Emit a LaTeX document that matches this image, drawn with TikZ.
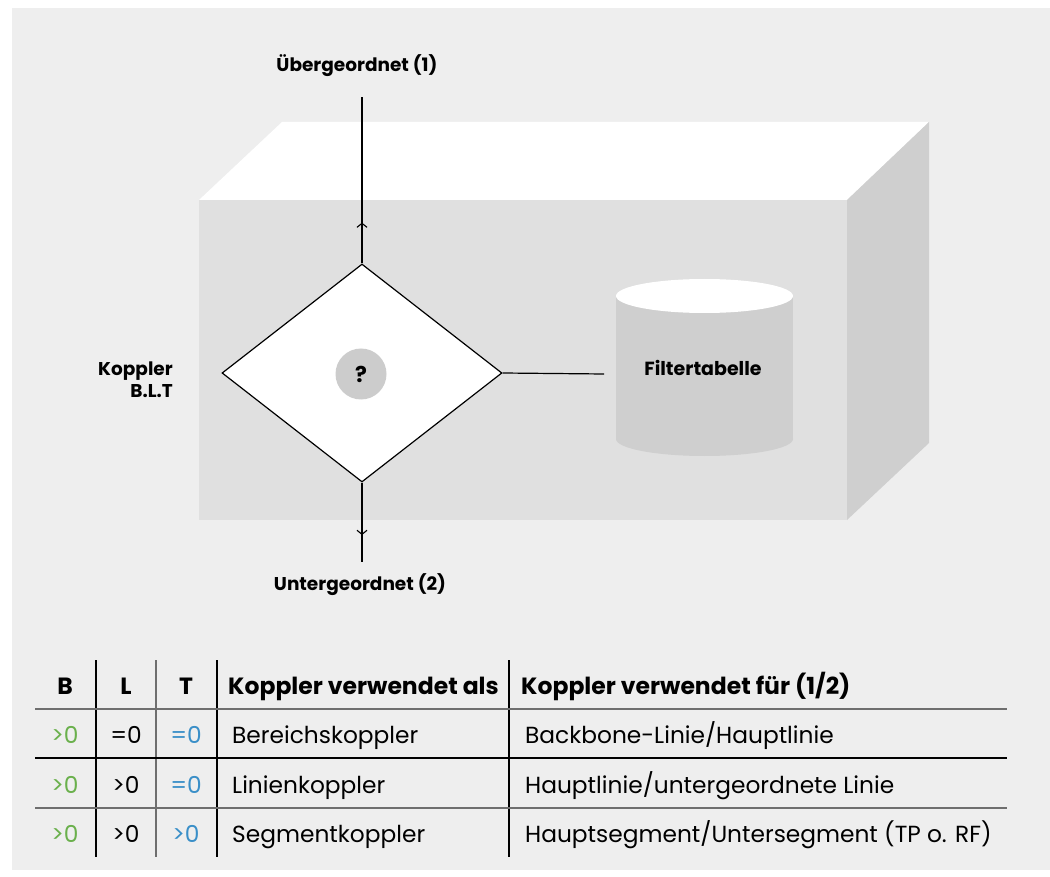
\documentclass[tikz,border=0pt]{standalone}
\usepackage{fontspec}
\setmainfont{Poppins}
\usetikzlibrary{shapes.geometric,arrows.meta,decorations.markings}
\definecolor{panel}{HTML}{EEEEEE}
\definecolor{front}{HTML}{E0E0E0}
\definecolor{side}{HTML}{CFCFCF}
\definecolor{cyl}{HTML}{CFCFCF}
\definecolor{qcirc}{HTML}{CCCCCC}
\definecolor{grn}{HTML}{6AB04C}
\definecolor{blu}{HTML}{3A8FC8}
\definecolor{rule}{HTML}{6E6E6E}
\tikzset{
  lbl/.style={font=\fontsize{18.5}{24}\selectfont\bfseries, inner sep=0pt, anchor=base},
  hdr/.style={font=\fontsize{23.5}{28}\selectfont\bfseries, inner sep=0pt, anchor=base},
  cell/.style={font=\fontsize{23.3}{28}\selectfont, inner sep=0pt, anchor=base},
  conn/.style={line width=1.2pt, black},
  midup/.style={postaction={decorate},decoration={markings,mark=at position #1 with {\arrow[line width=1.1pt]{Straight Barb[length=4pt,width=10pt]}}}},
  gridk/.style={line width=1.1pt, black},
  gridg/.style={line width=1.6pt, rule},
}
\begin{document}
\begin{tikzpicture}[x=1pt,y=-1pt]
\useasboundingbox (0,0) rectangle (1050,877);
\fill[white] (0,0) rectangle (1050,877);
\fill[panel] (12,8) rectangle (1050,870);
% box
\fill[white] (199,200) -- (282,122) -- (929,122) -- (847,200) -- cycle;
\fill[side] (847,200) -- (929,122) -- (929,443) -- (847,520) -- cycle;
\fill[front] (199,200) rectangle (847,520);
% cylinder
\fill[cyl] (616,296) rectangle (793,439);
\fill[cyl] (704.5,439) ellipse [x radius=88.5, y radius=17];
\fill[white] (704.5,296) ellipse [x radius=88.5, y radius=17];
\node[lbl, font=\fontsize{19}{24}\selectfont\bfseries] (filt) at (703,375) {Filtertabelle};
\coordinate (cylw) at (604,374);
% diamond
\node[diamond, draw=black, line width=1.2pt, fill=white, minimum width=280pt, minimum height=218pt, inner sep=0pt] (dia) at (362,373) {};
\node[circle, fill=qcirc, minimum size=51pt, inner sep=0pt, font=\fontsize{22}{24}\selectfont\bfseries] (q) at (361,374) {?};
\coordinate (top) at (362,97);
\coordinate (bot) at (362,562);
\draw[conn, midup=0.245] (dia.north) -- (top);
\draw[conn, midup=0.66] (dia.south) -- (bot);
\draw[conn] (dia.east) -- (cylw);
% labels
\node[lbl] (ueber) at (357,72) {Übergeordnet (1)};
\node[lbl] (unter) at (360,590) {Untergeordnet (2)};
\node[lbl, anchor=base east] (kop1) at (173,375) {Koppler};
\node[lbl, anchor=base east] (kop2) at (173,398) {B.L.T};
% table
\draw[gridk] (96,660) -- (96,857);
\draw[gridg] (156,660) -- (156,857);
\draw[gridk] (217,660) -- (217,857);
\draw[gridk] (509,660) -- (509,857);
\draw[gridg] (35,709) -- (1007,709);
\draw[gridk] (35,758) -- (1007,758);
\draw[gridg] (35,808) -- (1007,808);
\node[hdr] (hB) at (65,694) {B};
\node[hdr] (hL) at (126,694) {L};
\node[hdr] (hT) at (186,694) {T};
\node[hdr, anchor=base west] (hA) at (228,694) {Koppler verwendet als};
\node[hdr, anchor=base west] (hF) at (521,694) {Koppler verwendet für (1/2)};
\node[cell, text=grn] (b1) at (65,743) {>0};
\node[cell] (l1) at (126,743) {=0};
\node[cell, text=blu] (t1) at (186,743) {=0};
\node[cell, anchor=base west] (a1) at (232,743) {Bereichskoppler};
\node[cell, anchor=base west] (f1) at (525,743) {Backbone-Linie/Hauptlinie};
\node[cell, text=grn] (b2) at (65,793) {>0};
\node[cell] (l2) at (126,793) {>0};
\node[cell, text=blu] (t2) at (186,793) {=0};
\node[cell, anchor=base west] (a2) at (232,793) {Linienkoppler};
\node[cell, anchor=base west] (f2) at (525,793) {Hauptlinie/untergeordnete Linie};
\node[cell, text=grn] (b3) at (65,842) {>0};
\node[cell] (l3) at (126,842) {>0};
\node[cell, text=blu] (t3) at (186,842) {>0};
\node[cell, anchor=base west] (a3) at (232,842) {Segmentkoppler};
\node[cell, anchor=base west] (f3) at (525,842) {Hauptsegment/Untersegment (TP o. RF)};
\end{tikzpicture}
\end{document}
